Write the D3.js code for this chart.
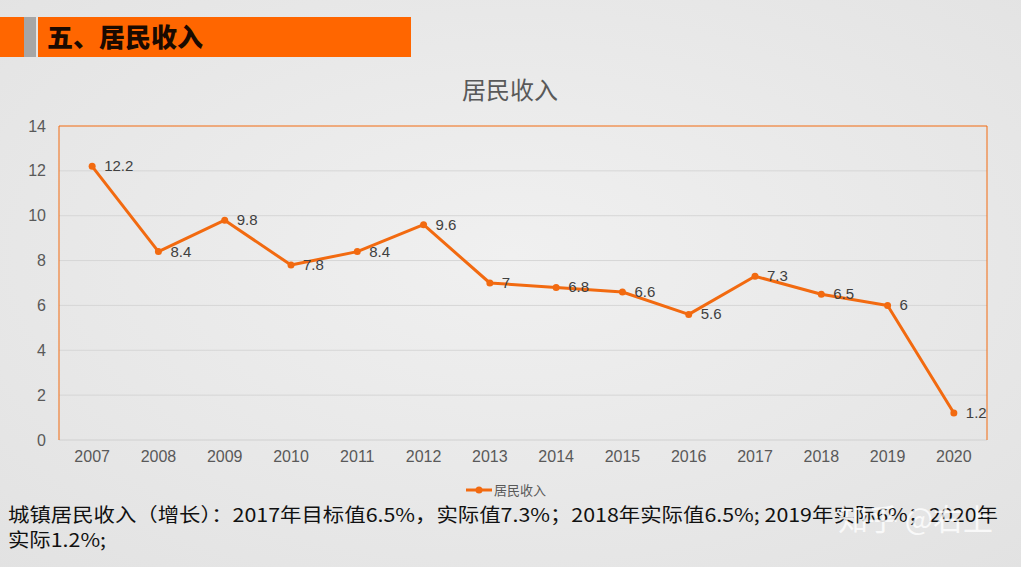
<!DOCTYPE html>
<html>
<head>
<meta charset="utf-8">
<script src="https://cdn.jsdelivr.net/npm/d3@7"></script>
<style>
  body { margin: 0; background: #ebebeb; }
  svg { display: block; font-family: "Liberation Sans", Arial, "Noto Sans CJK SC", sans-serif; }
</style>
</head>
<body>
<svg width="1021" height="567"></svg>
<script>
var years = ["2007","2008","2009","2010","2011","2012","2013","2014","2015","2016","2017","2018","2019","2020"];
var income = [12.2, 8.4, 9.8, 7.8, 8.4, 9.6, 7, 6.8, 6.6, 5.6, 7.3, 6.5, 6, 1.2];
var yTicks = [0, 2, 4, 6, 8, 10, 12, 14];
var seriesName = "居民收入";
var noteLines = ["城镇居民收入（增长）：2017年目标值6.5%，实际值7.3%；2018年实际值6.5%; 2019年实际6%；2020年", "实际1.2%;"];

var orange = "#f26a10";
var svg = d3.select("svg");

// background
var defs = svg.append("defs");
var grad = defs.append("radialGradient").attr("id", "bg").attr("cx", "50%").attr("cy", "45%").attr("r", "75%");
grad.append("stop").attr("offset", "0%").attr("stop-color", "#f0f0f0");
grad.append("stop").attr("offset", "100%").attr("stop-color", "#e2e2e2");
svg.append("rect").attr("width", 1021).attr("height", 567).attr("fill", "url(#bg)");

// header bar
svg.append("rect").attr("x", 0).attr("y", 17).attr("width", 24).attr("height", 40).attr("fill", "#ff6600");
svg.append("rect").attr("x", 24).attr("y", 17).attr("width", 12).attr("height", 40).attr("fill", "#a6a6a6");
svg.append("rect").attr("x", 38).attr("y", 17).attr("width", 373).attr("height", 40).attr("fill", "#ff6600");
svg.append("text").attr("x", 47).attr("y", 47)
    .style("font-family", "'Noto Sans CJK SC', sans-serif")
    .style("font-weight", "900").style("font-size", "26px").attr("fill", "#1a0a00")
    .text("五、居民收入");

// chart title
svg.append("text").attr("x", 510).attr("y", 99).attr("text-anchor", "middle")
    .style("font-family", "'Noto Sans CJK SC', sans-serif")
    .style("font-size", "24px").attr("fill", "#595959")
    .text(seriesName);

var plotLeft = 59, plotRight = 987, plotTop = 126, plotBottom = 440;

var x = d3.scaleBand().domain(years).range([plotLeft, plotRight]);
var y = d3.scaleLinear().domain([0, 14]).range([plotBottom, plotTop]);

// gridlines
svg.append("g").selectAll("line").data(yTicks.slice(1, -1)).join("line")
    .attr("x1", plotLeft).attr("x2", plotRight)
    .attr("y1", function(d) { return y(d); }).attr("y2", function(d) { return y(d); })
    .attr("stroke", "#d6d6d6").attr("stroke-width", 1);

// bottom axis line
svg.append("line").attr("x1", plotLeft).attr("x2", plotRight).attr("y1", plotBottom).attr("y2", plotBottom)
    .attr("stroke", "#d0d0d0");

// plot border (orange left, top, right)
svg.append("path")
    .attr("d", "M" + plotLeft + "," + plotBottom + "V" + plotTop + "H" + plotRight + "V" + plotBottom)
    .attr("fill", "none").attr("stroke", orange).attr("stroke-width", 1);

// y axis labels
var yAxis = d3.axisLeft(y).tickValues(yTicks).tickSize(0).tickPadding(13);
var gy = svg.append("g").attr("transform", "translate(" + plotLeft + ",0)").call(yAxis);
gy.select(".domain").remove();
gy.selectAll("text").style("font-size", "16px").style("font-family", "'Liberation Sans', Arial, sans-serif").attr("fill", "#595959");

// x axis labels
var xAxis = d3.axisBottom(x).tickSize(0).tickPadding(11);
var gx = svg.append("g").attr("transform", "translate(0," + plotBottom + ")").call(xAxis);
gx.select(".domain").remove();
gx.selectAll("text").style("font-size", "16px").style("font-family", "'Liberation Sans', Arial, sans-serif").attr("fill", "#595959");

// line
var cx = function(d, i) { return x(years[i]) + x.bandwidth() / 2; };
var line = d3.line().x(cx).y(function(d) { return y(d); });
svg.append("path").datum(income).attr("d", line)
    .attr("fill", "none").attr("stroke", orange).attr("stroke-width", 3)
    .attr("stroke-linejoin", "round");

svg.append("g").selectAll("circle").data(income).join("circle")
    .attr("cx", cx).attr("cy", function(d) { return y(d); }).attr("r", 3.5)
    .attr("fill", orange);

svg.append("g").selectAll("text").data(income).join("text")
    .attr("x", function(d, i) { return cx(d, i) + 12; })
    .attr("y", function(d) { return y(d) + 5; })
    .style("font-size", "15px").attr("fill", "#404040")
    .text(function(d) { return d; });

// legend
var lg = svg.append("g").attr("transform", "translate(466,490)");
lg.append("line").attr("x1", 0).attr("x2", 26).attr("y1", 0).attr("y2", 0)
    .attr("stroke", orange).attr("stroke-width", 3);
lg.append("circle").attr("cx", 13).attr("cy", 0).attr("r", 3.5).attr("fill", orange);
lg.append("text").attr("x", 28).attr("y", 5)
    .style("font-family", "'Noto Sans CJK SC', sans-serif")
    .style("font-size", "13px").attr("fill", "#595959").text(seriesName);

// note text
svg.append("g").selectAll("text").data(noteLines).join("text")
    .attr("x", 8).attr("y", function(d, i) { return 522 + i * 25; })
    .style("font-family", "'Noto Sans CJK SC', sans-serif")
    .style("font-size", "19px").attr("fill", "#111")
    .attr("textLength", function(d, i) { return i === 0 ? 990 : 98; })
    .attr("lengthAdjust", "spacingAndGlyphs")
    .text(function(d) { return d; });

// watermark
svg.append("text").attr("x", 838).attr("y", 530)
    .style("font-family", "'Noto Sans CJK SC', sans-serif")
    .style("font-size", "30px").attr("fill", "#ffffff").attr("opacity", 0.8)
    .text("知乎 @右上");
</script>
</body>
</html>
